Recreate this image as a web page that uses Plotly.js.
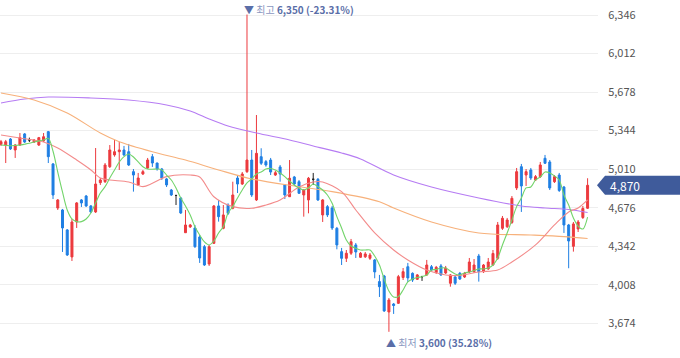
<!DOCTYPE html>
<html><head><meta charset="utf-8">
<script src="https://cdn.plot.ly/plotly-3.0.1.min.js"></script>
<style>html,body{margin:0;padding:0;background:#fff;}#chart{width:680px;height:358px;}</style>
</head><body><div id="chart"></div>
<script>
const openP = [5225,5219,5271,5176,5219,5315,5263,5245,5219,5254,5335,5055,4673,4656,4483,4249,4552,4743,4777,4691,
4639,4893,4901,5031,5133,5161,5176,5161,4988,4873,4968,5020,5118,5063,5011,4925,4829,4782,4760,4459,
4509,4500,4422,4338,4188,4367,4691,4497,4699,4671,4933,4881,4988,5089,4743,5118,5075,5089,4959,5029,
4873,4771,4942,4901,4786,4743,4922,4922,4613,4685,4673,4497,4295,4237,4281,4353,4246,4250,4237,4223,
4035,4084,3772,3841,3847,4071,4164,4107,4055,4078,4093,4164,4114,4171,4110,4021,4075,4107,4075,4119,
4121,4257,4121,4145,4179,4237,4497,4511,4548,4847,5031,4959,5003,4916,4945,5104,5072,4901,4959,4855,
4526,4341,4491,4591,4671];
const highP = [5263,5263,5280,5228,5323,5323,5283,5271,5289,5323,5341,5063,4751,4665,4491,4578,4725,4751,4786,4699,
5193,4933,5063,5219,5263,5248,5211,5228,5011,4977,5003,5107,5141,5066,5020,4933,4838,4786,4769,4656,
4535,4526,4439,4353,4353,4699,4743,4699,4714,4901,4959,4985,6350,5176,5479,5191,5089,5107,4994,5046,
4881,5089,4951,4916,4838,4942,4977,4933,4751,4699,4691,4509,4327,4309,4405,4370,4292,4292,4283,4231,
4093,4093,3893,3850,4093,4153,4197,4115,4101,4085,4223,4179,4171,4188,4171,4101,4084,4119,4119,4240,
4231,4275,4188,4240,4309,4552,4604,4587,4777,5020,5055,5011,5020,4959,5072,5133,5089,4959,4977,4864,
4535,4552,4569,4691,4931];
const lowP = [5211,5063,5176,5107,5211,5237,5245,5237,5211,5245,5063,4751,4656,4292,4257,4214,4500,4682,4682,4630,
4630,4873,4890,5020,5118,5003,5124,5037,4815,4864,4959,5011,5029,4997,4916,4855,4777,4699,4621,4457,
4500,4327,4197,4171,4171,4361,4555,4489,4613,4662,4803,4873,4977,4769,4734,5046,5031,4959,4951,4901,
4751,4769,4864,4795,4598,4627,4873,4734,4552,4595,4483,4315,4179,4205,4266,4240,4240,4240,4223,4064,
3902,3772,3600,3755,3841,4049,4032,4032,4049,4041,4084,4127,4101,4084,4101,3991,4006,4049,4067,4110,
4110,4035,4110,4136,4171,4223,4483,4500,4535,4829,4639,4864,4916,4907,4933,5055,4829,4890,4812,4457,
4151,4295,4465,4578,4665];
const closeP = [5248,5248,5185,5219,5283,5245,5263,5263,5283,5291,5118,4786,4743,4500,4266,4552,4717,4717,4691,4639,
4881,4916,5046,5176,5161,5176,5133,5046,4959,4933,4988,5089,5063,5011,4933,4873,4786,4782,4630,4526,
4526,4338,4240,4179,4338,4691,4598,4613,4627,4786,4881,4968,5089,4786,5147,5061,5046,4985,4979,4968,
4786,4931,4881,4801,4829,4931,4922,4743,4743,4613,4500,4353,4237,4281,4381,4292,4281,4275,4266,4119,
3991,3781,3876,3828,4078,4121,4067,4049,4093,4078,4179,4136,4159,4093,4153,4093,4021,4058,4107,4205,
4179,4121,4179,4205,4279,4526,4584,4569,4757,4988,4864,4988,4933,4945,5046,5061,4847,4945,4825,4526,
4387,4535,4552,4669,4870];
const ma5 = [5219,5216,5213,5216,5219,5226,5234,5245,5255,5263,5277,5165,4985,4812,4656,4578,4555,4555,4578,4630,
4717,4803,4858,4933,5003,5072,5118,5141,5115,5072,5031,5011,5009,5011,5003,4959,4916,4847,4760,4691,
4613,4511,4439,4379,4353,4387,4457,4511,4630,4685,4760,4829,4890,4925,4968,4985,5011,5016,5003,4977,
4945,4907,4873,4847,4829,4847,4881,4858,4829,4786,4714,4598,4500,4396,4344,4324,4309,4309,4309,4257,
4179,4058,3954,3902,3905,3963,4032,4058,4071,4078,4093,4136,4140,4153,4153,4127,4101,4093,4110,4119,
4132,4145,4145,4153,4179,4240,4353,4457,4569,4685,4760,4847,4855,4916,4942,4985,4977,4951,4916,4786,
4699,4587,4517,4491,4595];
const ma20Idx = [0,4,9,12,16,19,21,23,27,30,32,35,40,42,45,49,53,56,59,63,66,68,72,75,79,83,86,90,94,97,101,105,108,113,117,120,122,124];
const ma20 = [5306,5280,5245,5193,5089,5003,4933,4916,4899,4858,4887,4945,4959,4942,4771,4685,4671,4699,4743,4855,4899,4899,4815,4656,4457,4309,4223,4136,4093,4088,4119,4136,4205,4353,4526,4639,4673,4743];
const ma60Idx = [0,7,14,21,25,32,39,46,53,63,70,80,83,91,101,112,119,124];
const ma60 = [5670,5609,5497,5323,5248,5161,5089,5003,4925,4858,4815,4728,4673,4552,4457,4439,4425,4409];
const ma120Idx = [0,5,10,19,27,35,40,44,48,54,61,66,72,76,83,91,101,110,115,120,124];
const ma120 = [5583,5618,5635,5627,5609,5566,5514,5445,5384,5323,5263,5211,5150,5098,4959,4855,4760,4691,4673,4660,4634];
const yTicks = [3674,4008,4342,4676,5010,5344,5678,6012,6346];

const RED = '#ec3a3e', BLUE = '#1f7fe3';
const FONT = 'Noto Sans CJK KR, Noto Sans, sans-serif';
const fmt = v => v.toLocaleString('en-US');
const idx = openP.map((_, i) => i);
const isDoji = openP.map((o, i) => o === closeP[i]);
const pick = (arr, want) => arr.filter((_, i) => isDoji[i] === want);

function candle(want, up, down) {
  return {type:'candlestick', x:pick(idx,want), open:pick(openP,want), high:pick(highP,want),
    low:pick(lowP,want), close:pick(closeP,want), whiskerwidth:0, hoverinfo:'skip',
    increasing:{line:{color:up,width:1},fillcolor:up},
    decreasing:{line:{color:down,width:1},fillcolor:down}};
}
function ma(x, y, color) {
  return {type:'scatter', mode:'lines', x:x, y:y, hoverinfo:'skip',
    line:{color:color, width:1.1, shape:'spline', smoothing:0.9}};
}
const data = [
  candle(false, RED, BLUE),
  candle(true, '#222', '#222'),
  ma(ma120Idx, ma120, '#b67cf3'),
  ma(ma60Idx, ma60, '#f7b17b'),
  ma(ma20Idx, ma20, '#f38b8b'),
  ma(idx, ma5, '#72d46a')
];

const maxH = Math.max(...highP), maxI = highP.indexOf(maxH);
const minL = Math.min(...lowP), minI = lowP.indexOf(minL);
const last = closeP[closeP.length - 1];
const pct = ref => ((last - ref) / ref * 100).toFixed(2) + '%';
const C1 = '#5a6ea8', C2 = '#8a97bf';

const layout = {
  width:680, height:358, margin:{l:0, r:82, t:0, b:0, pad:0},
  paper_bgcolor:'#fff', plot_bgcolor:'#fff', showlegend:false, hovermode:false, boxgap:0.4,
  xaxis:{range:[-0.21,126.2], showgrid:false, zeroline:false, showticklabels:false, ticks:'',
    showline:false, rangeslider:{visible:false}, fixedrange:true},
  yaxis:{side:'right', range:[3373,6476], tickvals:yTicks, ticktext:yTicks.map(fmt),
    showgrid:true, gridcolor:'#eeeeee', gridwidth:1, zeroline:false, showline:false,
    ticks:'outside', ticklen:7, tickcolor:'rgba(0,0,0,0)', automargin:false,
    tickfont:{family:FONT, size:11, color:'#555'}},
  shapes:[{type:'path', xref:'paper', yref:'y', xsizemode:'pixel', ysizemode:'pixel',
    xanchor:1, yanchor:last, path:'M-1,0 L7,-9.5 L82,-9.5 L82,9.5 L7,9.5 Z',
    fillcolor:'#3f5b9b', line:{width:0}, layer:'above'}],
  annotations:[
    {xref:'paper', x:1, xanchor:'left', xshift:10, yref:'y', y:last, yanchor:'middle', showarrow:false,
     text:fmt(last), font:{family:FONT, size:12, color:'#fff'}},
    {xref:'x', x:maxI, xanchor:'left', xshift:-5, yref:'y', y:maxH, yanchor:'middle', yshift:5, showarrow:false,
     text:'<span style="color:'+C1+'">▼</span> <span style="color:'+C2+'">최고</span> <b>'+fmt(maxH)+' ('+pct(maxH)+')</b>',
     font:{family:FONT, size:10, color:C1}},
    {xref:'x', x:minI, xanchor:'left', xshift:-5, yref:'y', y:minL, yanchor:'middle', yshift:-11, showarrow:false,
     text:'<span style="color:'+C1+'">▲</span> <span style="color:'+C2+'">최저</span> <b>'+fmt(minL)+' ('+pct(minL)+')</b>',
     font:{family:FONT, size:10, color:C1}}
  ]
};
Plotly.newPlot('chart', data, layout, {staticPlot:true, displayModeBar:false});
</script></body></html>
